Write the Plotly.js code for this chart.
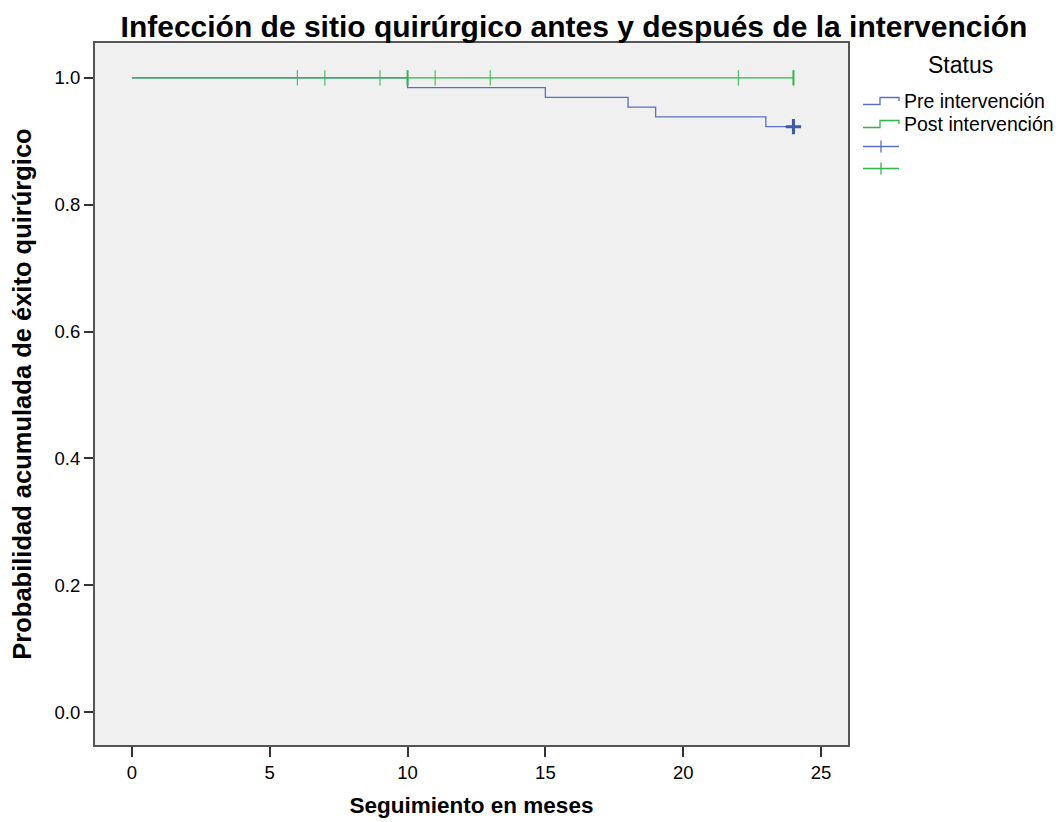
<!DOCTYPE html>
<html>
<head>
<meta charset="utf-8">
<script src="https://cdn.plot.ly/plotly-3.0.1.min.js"></script>
<style>html,body{margin:0;padding:0;background:#fff;}#chart{width:1062px;height:822px;}</style>
</head>
<body>
<div id="chart"></div>
<script>
// Kaplan-Meier data
const preTimes = [0, 10, 15, 18, 19, 23, 24];
const preSurv = [1.0, 0.9846, 0.9692, 0.9538, 0.9385, 0.9231, 0.9231];
const postTimes = [0, 24];
const postSurv = [1.0, 1.0];
const preCensorTimes = [24];
const preCensorSurv = [0.9231];
const postCensorTimes = [6, 7, 9, 10, 11, 13, 22, 24];
const postCensorSurv = [1, 1, 1, 1, 1, 1, 1, 1];
const postCensorWidth = [1, 1, 1, 2, 1, 1, 1, 2];
const seriesNames = ["Pre intervención", "Post intervención"];
const legendTitle = "Status";
const xTicks = [0, 5, 10, 15, 20, 25];
const yTicks = [0.0, 0.2, 0.4, 0.6, 0.8, 1.0];

const BLUE = "#5b6fc0", BLUE_D = "#3e58ac", GREEN = "#2eb848";
const FONT = "Liberation Sans, Arial, sans-serif";

// plot-area geometry (pixels) used to place the hand-drawn legend
const M = {l: 95, r: 214, t: 43, b: 77}, W = 1062, H = 822;
const PW = W - M.l - M.r, PH = H - M.t - M.b;
const px = v => (v - M.l) / PW;
const py = v => 1 - (v - M.t) / PH;

const traces = [
  {x: preTimes, y: preSurv, mode: "lines", line: {shape: "hv", color: BLUE, width: 1.3}, name: seriesNames[0], hoverinfo: "skip"},
  {x: postTimes, y: postSurv, mode: "lines", line: {shape: "hv", color: GREEN, width: 1.3}, name: seriesNames[1], hoverinfo: "skip"},
  {x: preCensorTimes, y: preCensorSurv, mode: "markers",
   marker: {symbol: "cross-thin", size: 11, color: BLUE_D, line: {color: BLUE_D, width: 3}}, name: " ", hoverinfo: "skip"},
  {x: postCensorTimes, y: postCensorSurv, mode: "markers",
   marker: {symbol: "line-ns", size: 11, color: GREEN, line: {color: GREEN, width: postCensorWidth}}, name: " ", hoverinfo: "skip"}
];

// legend: step symbols for survival lines, "+" symbols for censored marks
const legendRows = [101, 124, 146.5, 168.5];
const shapes = [];
const annotations = [{text: legendTitle, xref: "paper", yref: "paper", x: px(960), y: py(65),
  xanchor: "center", yanchor: "middle", showarrow: false, font: {size: 23, family: FONT, color: "#000"}}];
[BLUE, GREEN].forEach((c, i) => {
  const yc = legendRows[i];
  const path = `M ${px(863)} ${py(yc + 3.5)} L ${px(880)} ${py(yc + 3.5)} L ${px(880)} ${py(yc - 3.5)} L ${px(899)} ${py(yc - 3.5)} L ${px(899)} ${py(yc)}`;
  shapes.push({type: "path", xref: "paper", yref: "paper", path: path, line: {color: c, width: 1.3}});
  annotations.push({text: seriesNames[i], xref: "paper", yref: "paper", x: px(902), y: py(yc),
    xanchor: "left", yanchor: "middle", showarrow: false, font: {size: 19.5, family: FONT, color: "#000"}});
});
[BLUE, GREEN].forEach((c, i) => {
  const yc = legendRows[i + 2];
  shapes.push({type: "line", xref: "paper", yref: "paper", x0: px(863), x1: px(899), y0: py(yc), y1: py(yc), line: {color: c, width: 1.3}});
  shapes.push({type: "line", xref: "paper", yref: "paper", x0: px(881), x1: px(881), y0: py(yc - 6), y1: py(yc + 6), line: {color: c, width: 1.3}});
});

const layout = {
  width: W, height: H,
  paper_bgcolor: "#ffffff", plot_bgcolor: "#f0f0f0",
  margin: M,
  font: {family: FONT, color: "#000"},
  showlegend: false,
  title: {text: "<b>Infección de sitio quirúrgico antes y después de la intervención</b>",
          font: {family: FONT, size: 30, color: "#000"},
          xref: "container", x: 0.5405, xanchor: "center",
          yref: "container", y: 0.968, yanchor: "middle"},
  xaxis: {range: [-1.34, 25.98], tickvals: xTicks, ticktext: xTicks.map(String),
          ticks: "outside", ticklen: 10, tickwidth: 2, tickcolor: "#333",
          showgrid: false, zeroline: false, showline: true, mirror: true, linecolor: "#555", linewidth: 2,
          tickfont: {size: 18.5, family: FONT}, fixedrange: true,
          title: {text: "<b>Seguimiento en meses</b>", font: {size: 22.5, family: FONT}, standoff: 15}},
  yaxis: {range: [-0.052, 1.055], tickvals: yTicks, ticktext: yTicks.map(v => v.toFixed(1)),
          ticks: "outside", ticklen: 9, tickwidth: 2, tickcolor: "#333",
          showgrid: false, zeroline: false, showline: true, mirror: true, linecolor: "#555", linewidth: 2,
          tickfont: {size: 18.5, family: FONT}, fixedrange: true,
          title: {text: "<b>Probabilidad acumulada de éxito quirúrgico</b>", font: {size: 25.5, family: FONT}, standoff: 16}},
  shapes: shapes,
  annotations: annotations
};

Plotly.newPlot("chart", traces, layout, {displayModeBar: false, staticPlot: true});
</script>
</body>
</html>
